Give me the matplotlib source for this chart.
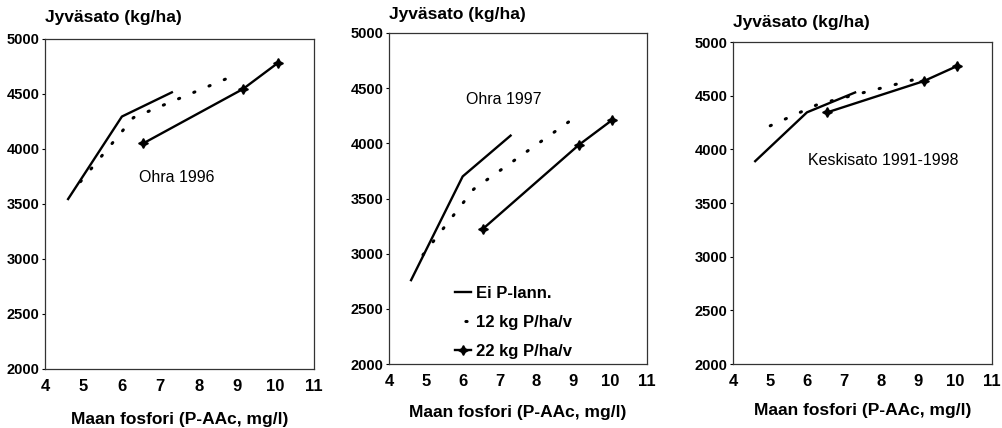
import matplotlib.pyplot as plt

# x values (Maan fosfori, P-AAc mg/l) for each treatment
x_ei = [4.6, 6.0, 7.3]
x_12 = [4.75, 6.3, 8.9]
x_22 = [6.55, 9.15, 10.05]

# yields (kg/ha) per panel
ei_1996 = [3545, 4295, 4515]
p12_1996 = [3630, 4285, 4665]
p22_1996 = [4050, 4545, 4780]

ei_1997 = [2760, 3700, 4070]
p12_1997 = [2915, 3585, 4200]
p22_1997 = [3225, 3985, 4210]

ei_avg = [3890, 4345, 4530]
p12_avg = [4180, 4420, 4650]
p22_avg = [4345, 4635, 4775]

labels = ["Ei P-lann.", "12 kg P/ha/v", "22 kg P/ha/v"]
titles = ["Ohra 1996", "Ohra 1997", "Keskisato 1991-1998"]
title_pos = [(7.43, 3745), (7.12, 4400), (8.05, 3900)]

xticks = [4, 5, 6, 7, 8, 9, 10, 11]
yticks = [2000, 2500, 3000, 3500, 4000, 4500, 5000]

plt.rcParams['font.family'] = ['Liberation Sans', 'DejaVu Sans']

fig = plt.figure(figsize=(10.03, 4.28), dpi=100)

# axes rectangles (left, bottom, width, height) in figure fractions
rects = [
    (0.0449, 0.1379, 0.2682, 0.7710),
    (0.3878, 0.1495, 0.2572, 0.7734),
    (0.7308, 0.1495, 0.2582, 0.7523),
]
ylab_off = [21, 18, 20]
xlab_pad = [13.5, 11.5, 10]

panels = [
    (ei_1996, p12_1996, p22_1996),
    (ei_1997, p12_1997, p22_1997),
    (ei_avg, p12_avg, p22_avg),
]

for i, (ei, p12, p22) in enumerate(panels):
    ax = fig.add_axes(rects[i])
    ax.plot(x_ei, ei, color="black", lw=1.7, label=labels[0])
    ax.plot(x_12, p12, color="black", lw=2.2, linestyle=(2, (0.4, 5.0)),
            dash_capstyle="round", label=labels[1])
    ax.plot(x_22, p22, color="black", lw=1.7, marker=(4, 1, 0), markersize=7,
            label=labels[2])

    ax.set_xlim(4, 11)
    ax.set_ylim(2000, 5000)
    ax.set_xticks(xticks)
    ax.set_yticks(yticks)
    ax.tick_params(axis="y", length=2, width=0.8, pad=2, labelsize=10.5)
    ax.tick_params(axis="x", length=0, pad=7, labelsize=12)
    for lbl in ax.get_xticklabels() + ax.get_yticklabels():
        lbl.set_fontweight("bold")
    for sp in ax.spines.values():
        sp.set_linewidth(0.9)
        sp.set_color("#333333")

    ax.annotate("Jyväsato (kg/ha)", xy=(0, 1), xycoords="axes fraction",
                xytext=(0, ylab_off[i] * 0.72), textcoords="offset points",
                ha="left", va="center", fontsize=12.5, fontweight="bold")
    ax.set_xlabel("Maan fosfori (P-AAc, mg/l)", fontsize=12.5,
                  fontweight="bold", labelpad=xlab_pad[i])
    ax.text(title_pos[i][0], title_pos[i][1], titles[i], ha="center",
            va="center", fontsize=11.5)

    if i == 1:
        ax.legend(loc="upper left", bbox_to_anchor=(0.255, 0.236),
                  frameon=False, prop={"weight": "bold", "size": 12},
                  handlelength=1.0, handletextpad=0.25, labelspacing=0.84,
                  borderpad=0, borderaxespad=0, numpoints=1)

fig.savefig("out.png", dpi=100)
